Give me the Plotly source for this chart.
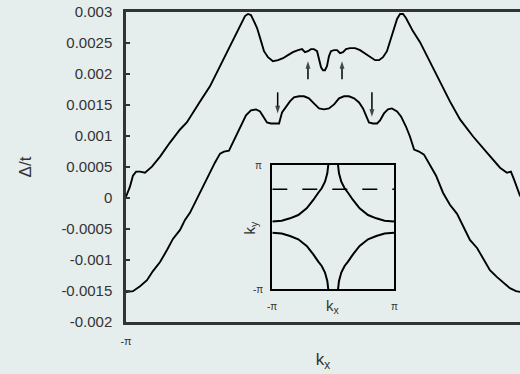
import numpy as np
import plotly.graph_objects as go

PI = np.pi

# ---------------- data (kx in units of pi) ----------------
upper_kx = [-1.0, -0.980, -0.965, -0.949, -0.929, -0.904, -0.869, -0.828, -0.778, -0.727,
            -0.693, -0.662, -0.626, -0.576, -0.525, -0.491, -0.465, -0.439, -0.414, -0.399,
            -0.384, -0.369, -0.354, -0.338, -0.318, -0.303, -0.283, -0.258, -0.232, -0.207,
            -0.182, -0.157, -0.131, -0.111, -0.096, -0.081, -0.066, -0.051, -0.035, -0.025,
            -0.015, -0.005, 0.005, 0.015, 0.025, 0.035, 0.051, 0.066, 0.081, 0.096,
            0.111, 0.131, 0.157, 0.182, 0.207, 0.232, 0.258, 0.278, 0.298, 0.318,
            0.338, 0.354, 0.369, 0.384, 0.399, 0.414, 0.439, 0.449, 0.485, 0.535,
            0.586, 0.636, 0.687, 0.753, 0.823, 0.889, 0.924, 0.944, 0.960, 0.975,
            0.990, 1.0]
upper_gap = [0.00002, 0.000182, 0.00036, 0.000425, 0.000425, 0.000408, 0.000506, 0.000668, 0.000894, 0.001105,
             0.001218, 0.00138, 0.001558, 0.001801, 0.002125, 0.002352, 0.00253, 0.002692, 0.002854, 0.002935,
             0.002968, 0.002951, 0.002854, 0.002741, 0.00253, 0.002368, 0.002271, 0.002206, 0.002223, 0.002255,
             0.002304, 0.002352, 0.002385, 0.002401, 0.002352, 0.002368, 0.002401, 0.002401, 0.002368, 0.002239,
             0.002109, 0.002061, 0.002061, 0.002125, 0.002287, 0.002368, 0.002385, 0.002385, 0.002336, 0.002352,
             0.002401, 0.002417, 0.002417, 0.002385, 0.002336, 0.002287, 0.002223, 0.002223, 0.002271, 0.002368,
             0.002563, 0.002757, 0.002887, 0.002968, 0.002968, 0.002903, 0.002741, 0.002692, 0.002514, 0.00219,
             0.001866, 0.001558, 0.001267, 0.000992, 0.000732, 0.000489, 0.000408, 0.000425, 0.000295, 0.000166,
             0.000036, 0.00002]

lower_kx = [-1.0, -0.965, -0.929, -0.894, -0.864, -0.828, -0.793, -0.763, -0.727, -0.702,
            -0.677, -0.652, -0.626, -0.601, -0.576, -0.551, -0.525, -0.505, -0.480, -0.465,
            -0.449, -0.424, -0.394, -0.369, -0.343, -0.323, -0.303, -0.288, -0.268, -0.247,
            -0.227, -0.212, -0.192, -0.172, -0.152, -0.126, -0.101, -0.076, -0.051, -0.025,
            0.0, 0.025, 0.051, 0.076, 0.101, 0.126, 0.152, 0.177, 0.197, 0.212,
            0.227, 0.247, 0.268, 0.283, 0.303, 0.323, 0.343, 0.369, 0.389, 0.414,
            0.434, 0.455, 0.480, 0.505, 0.535, 0.566, 0.601, 0.636, 0.672, 0.702,
            0.737, 0.773, 0.808, 0.838, 0.874, 0.904, 0.939, 0.970, 1.0]
lower_gap = [-0.001519, -0.001503, -0.001422, -0.001325, -0.001179, -0.001033, -0.000839, -0.00066, -0.000515, -0.000353,
             -0.000239, -0.000077, 0.000085, 0.000247, 0.000408, 0.00057, 0.000716, 0.000749, 0.000765, 0.000862,
             0.000992, 0.001154, 0.001332, 0.001413, 0.001429, 0.001397, 0.0013, 0.001218, 0.001202, 0.001202,
             0.001202, 0.00138, 0.001477, 0.001558, 0.001623, 0.00164, 0.00164, 0.001607, 0.001526, 0.001445,
             0.001429, 0.001445, 0.00151, 0.001607, 0.00164, 0.00164, 0.001607, 0.001542, 0.001445, 0.001332,
             0.001218, 0.001202, 0.001202, 0.00125, 0.001364, 0.001429, 0.001445, 0.001397, 0.001316, 0.001153,
             0.000992, 0.000781, 0.000749, 0.0007, 0.000538, 0.00036, 0.000085, -0.00011, -0.000256, -0.00045,
             -0.000677, -0.000806, -0.001, -0.001163, -0.001276, -0.001357, -0.001454, -0.001503, -0.001519]

# arrows: (kx/pi, tail value, head value)
arrow_kx = [-0.081, 0.091, -0.234, 0.242]
arrow_tail = [0.001915, 0.001915, 0.001704, 0.001704]
arrow_head = [0.002206, 0.002206, 0.001364, 0.00131]

# inset Fermi surface: upper-left arc (kx/pi, ky/pi)
fs_kx = [-0.080, -0.096, -0.134, -0.188, -0.244, -0.326, -0.435, -0.573, -0.709, -0.846, -1.0]
fs_ky = [1.0, 0.866, 0.731, 0.625, 0.554, 0.437, 0.303, 0.195, 0.142, 0.104, 0.092]
cut_ky = 0.61  # dashed line, ky/pi

ytick_vals = [0.003, 0.0025, 0.002, 0.0015, 0.001, 0.0005, 0, -0.0005, -0.001, -0.0015, -0.002]
ytick_text = ["0.003", "0.0025", "0.002", "0.0015", "0.001", "0.0005", "0",
              "-0.0005", "-0.001", "-0.0015", "-0.002"]
xtick_text = ["-\u03c0", "\u03c0"]

# ---------------- figure ----------------
BG = "#e6eded"
FONT = "Liberation Sans, Arial, sans-serif"
TXT = "#333333"

fig = go.Figure()
line = dict(color="black", width=1.9)
fig.add_trace(go.Scatter(x=np.array(upper_kx) * PI, y=upper_gap, mode="lines",
                         line=line, xaxis="x", yaxis="y", showlegend=False))
fig.add_trace(go.Scatter(x=np.array(lower_kx) * PI, y=lower_gap, mode="lines",
                         line=line, xaxis="x", yaxis="y", showlegend=False))

# arrows as line + arrow marker at the head
for k, t, h in zip(arrow_kx, arrow_tail, arrow_head):
    fig.add_trace(go.Scatter(x=[k * PI, k * PI], y=[t, h], mode="lines+markers",
                             line=dict(color="black", width=1.5),
                             marker=dict(symbol=["line-ew", "arrow"], size=[1, 8],
                                         angleref="previous", color="black",
                                         line=dict(width=0)),
                             xaxis="x", yaxis="y", showlegend=False))

# inset arcs
fkx = np.array(fs_kx) * PI
fky = np.array(fs_ky) * PI
for sx, sy in [(1, 1), (-1, 1), (1, -1), (-1, -1)]:
    fig.add_trace(go.Scatter(x=sx * fkx, y=sy * fky, mode="lines",
                             line=dict(color="black", width=2),
                             xaxis="x2", yaxis="y2", showlegend=False))
fig.add_trace(go.Scatter(x=[-PI, PI], y=[cut_ky * PI, cut_ky * PI], mode="lines",
                         line=dict(color="black", width=1.5, dash="longdash"),
                         xaxis="x2", yaxis="y2", showlegend=False))

# inset labels
ifont = dict(family=FONT, size=10, color=TXT)
annotations = [
    dict(x=-PI, y=PI, xref="x2", yref="y2", text="\u03c0", showarrow=False, xshift=-14, font=ifont),
    dict(x=-PI, y=-PI, xref="x2", yref="y2", text="-\u03c0", showarrow=False, xshift=-14, font=ifont),
    dict(x=-PI, y=-PI, xref="x2", yref="y2", text="-\u03c0", showarrow=False, yshift=-17, font=ifont),
    dict(x=PI, y=-PI, xref="x2", yref="y2", text="\u03c0", showarrow=False, yshift=-17, font=ifont),
    dict(x=0, y=-PI, xref="x2", yref="y2", text="k<sub>x</sub>", showarrow=False, yshift=-17,
         font=dict(family=FONT, size=15, color=TXT)),
    dict(x=-PI, y=0, xref="x2", yref="y2", text="k<sub>y</sub>", showarrow=False, xshift=-22,
         textangle=-90, font=dict(family=FONT, size=15, color=TXT)),
]

W, H = 520, 374
L, T, B = 126, 12, 52
plot_h = H - T - B
fig.update_layout(
    width=W, height=H,
    margin=dict(l=L, r=0, t=T, b=B),
    paper_bgcolor=BG, plot_bgcolor=BG,
    font=dict(family=FONT, color=TXT),
    xaxis=dict(range=[-PI, 0.9899 * PI], domain=[0, 1], showgrid=False, zeroline=False,
               showline=True, linecolor="#333333", linewidth=2.5, mirror=True,
               tickvals=[-PI, PI], ticktext=xtick_text, ticks="",
               tickfont=dict(size=11, color=TXT), ticklabelstandoff=7,
               title=dict(text="k<sub>x</sub>", font=dict(size=17, color=TXT), standoff=8)),
    yaxis=dict(range=[-0.002, 0.003], domain=[0, 1], showgrid=False, zeroline=False,
               showline=True, linecolor="#333333", linewidth=2.5,
               tickvals=ytick_vals, ticktext=ytick_text, ticks="inside", ticklen=4,
               tickcolor="#333333", tickwidth=2,
               tickfont=dict(size=15, color=TXT), ticklabelstandoff=8,
               title=dict(text="\u0394/t", font=dict(size=17, color=TXT), standoff=26)),
    xaxis2=dict(range=[-PI, PI], domain=[(272.3 - L) / (W - L), (394 - L) / (W - L)],
                anchor="y2", showgrid=False, zeroline=False, showline=True, mirror=True,
                linecolor="black", linewidth=2, showticklabels=False, ticks=""),
    yaxis2=dict(range=[-PI, PI], domain=[(H - B - 289.3) / plot_h, (H - B - 165) / plot_h],
                anchor="x2", showgrid=False, zeroline=False, showline=True, mirror=True,
                linecolor="black", linewidth=2, showticklabels=False, ticks=""),
    annotations=annotations,
)

fig.write_html("out.html")
